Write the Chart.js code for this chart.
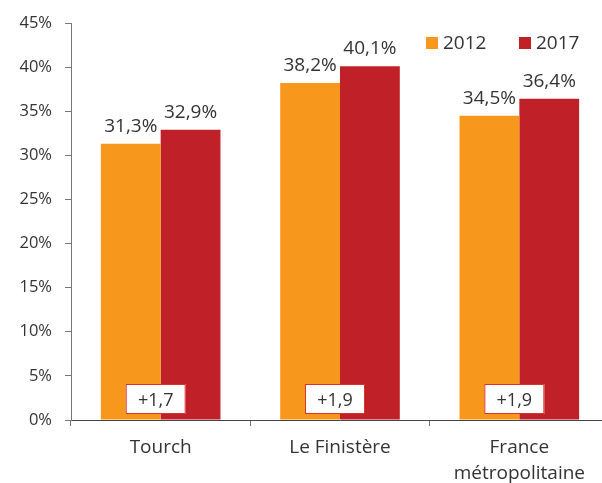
<!DOCTYPE html>
<html>
<head>
<meta charset="utf-8">
<script src="https://cdn.jsdelivr.net/npm/chart.js@4"></script>
<style>
  html, body { margin: 0; padding: 0; overflow: hidden; background: #fff; }
  #wrap { width: 612px; height: 483px; }
</style>
</head>
<body>
<div id="wrap"><canvas id="myChart" width="612" height="483"></canvas></div>
<script>
// données
const categories = ['Tourch', 'Le Finistère', ['France', 'métropolitaine']];
const years = ['2012', '2017'];
const values2012 = [31.3, 38.2, 34.5];
const values2017 = [32.9, 40.1, 36.4];
const ecarts = ['+1,7', '+1,9', '+1,9'];
const yTicks = [0, 5, 10, 15, 20, 25, 30, 35, 40, 45];

const colors = ['#F7981D', '#C02128'];
const FONT = "'Open Sans', 'Noto Sans', sans-serif";
const TXT = '#333333';

function fmt(v) {
  return v.toFixed(1).replace('.', ',') + '%';
}

/* etiquettes au dessus des barres + boites d'écart + légende */
const labelsPlugin = {
  id: 'labelsPlugin',
  afterDatasetsDraw(chart) {
    const ctx = chart.ctx;
    ctx.save();
    ctx.font = '19px ' + FONT;
    ctx.fillStyle = TXT;
    ctx.textAlign = 'center';
    ctx.textBaseline = 'alphabetic';
    chart.data.datasets.forEach((ds, di) => {
      chart.getDatasetMeta(di).data.forEach((bar, i) => {
        ctx.fillText(fmt(ds.data[i]), bar.x, bar.y - 12);
      });
    });

    // boites d'écart
    const xs = chart.scales.x, ys = chart.scales.y;
    ctx.font = '18px ' + FONT;
    ecarts.forEach((t, i) => {
      const cx = xs.getPixelForValue(i) - 5;
      const cy = ys.getPixelForValue(0) - 21;
      const w = 60, h = 30;
      ctx.fillStyle = '#fff';
      ctx.fillRect(cx - w / 2, cy - h / 2, w, h);
      ctx.strokeStyle = '#D9312B';
      ctx.lineWidth = 1;
      ctx.strokeRect(cx - w / 2 + 0.5, cy - h / 2 + 0.5, w - 1, h - 1);
      ctx.fillStyle = TXT;
      ctx.textBaseline = 'alphabetic';
      ctx.fillText(t, cx, cy + 7);
    });

    // légende
    const legX = [426, 519];
    ctx.font = '19px ' + FONT;
    ctx.textAlign = 'left';
    years.forEach((y, i) => {
      ctx.fillStyle = colors[i];
      ctx.fillRect(legX[i], 37, 12, 12);
      ctx.fillStyle = TXT;
      ctx.fillText(y, legX[i] + 17, 49);
    });
    ctx.restore();
  }
};

const data = {
  labels: categories,
  datasets: [
    { label: years[0], data: values2012, backgroundColor: colors[0] },
    { label: years[1], data: values2017, backgroundColor: colors[1] }
  ]
};

const config = {
  type: 'bar',
  data: data,
  options: {
    responsive: false,
    animation: false,
    devicePixelRatio: 1,
    datasets: {
      bar: { categoryPercentage: 0.667, barPercentage: 1.0 }
    },
    layout: { padding: { top: 23, right: 3, left: 0, bottom: 0 } },
    plugins: {
      legend: { display: false },
      tooltip: { enabled: false }
    },
    scales: {
      x: {
        grid: { offset: true, drawOnChartArea: false, drawTicks: true, tickLength: 6, color: '#777' },
        border: { color: '#444', width: 1 },
        ticks: { color: TXT, font: { family: FONT, size: 19, lineHeight: 1.35 }, padding: 9, maxRotation: 0 },
        afterFit(scale) { scale.height = 63; }
      },
      y: {
        min: 0,
        max: 45,
        afterBuildTicks(scale) { scale.ticks = yTicks.map(v => ({ value: v })); },
        grid: { drawOnChartArea: false, drawTicks: true, tickLength: 6, color: '#777' },
        border: { color: '#777', width: 1 },
        ticks: {
          color: TXT,
          font: { family: FONT, size: 16.5 },
          padding: 13,
          callback: v => v + '%'
        },
        afterFit(scale) { scale.width = 71; }
      }
    }
  },
  plugins: [labelsPlugin]
};

window.addEventListener('load', function () {
  const ctx = document.getElementById('myChart').getContext('2d');
  new Chart(ctx, config);
});
</script>
</body>
</html>
